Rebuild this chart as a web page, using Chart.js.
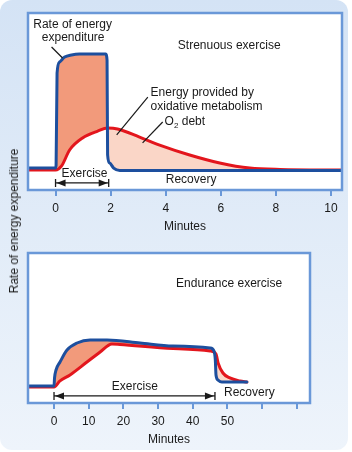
<!DOCTYPE html>
<html><head><meta charset="utf-8">
<script src="https://cdn.jsdelivr.net/npm/chart.js@4"></script>
<style>
html,body{margin:0;padding:0;background:#fff;}
#wrap{position:relative;width:352px;height:452px;overflow:hidden;}
#bg{position:absolute;left:0;top:0;width:348px;height:450px;border-radius:12px;background:linear-gradient(#d4e3f5,#eef4fb);}
canvas{position:absolute;left:0;}
#c1{top:0;} #c2{top:235px;}
#ylab{position:absolute;left:14px;top:221px;transform:translate(-50%,-50%) rotate(-90deg);white-space:nowrap;font:12px 'Liberation Sans',Arial,sans-serif;color:#1a1a1a;}
</style></head>
<body>
<div id="wrap">
<div id="bg"></div>
<canvas id="c1" width="352" height="235"></canvas>
<canvas id="c2" width="352" height="217"></canvas>
<div id="ylab">Rate of energy expenditure</div>
</div>
<script>
// ---- Data (minutes vs. relative rate of energy expenditure, 0-100) ----
// Strenuous exercise
const strenuousRateX = [-1, 0, 0.02, 0.055, 0.145, 0.33, 0.58, 0.87, 1.82, 1.87, 1.89, 1.96, 2.11, 2.33, 10.4];
const strenuousRateY = [12.4, 12.4, 14, 66, 72.3, 75.1, 76.3, 76.8, 76.8, 73.4, 19.8, 15.3, 12.4, 11.0, 11.0];
const strenuousOxX = [-1, 0, 0.22, 0.51, 0.98, 1.53, 1.89, 2.25, 3.05, 3.78, 4.87, 5.96, 7.05, 8.15, 10.4];
const strenuousOxY = [11.3, 11.3, 13.6, 22.6, 29.4, 33.3, 35.0, 34.5, 29.9, 25.4, 19.8, 15.3, 12.4, 11.6, 11.3];
const strenuousTicks = [0, 2, 4, 6, 8, 10];
const strenuousTickLabels = ['0', '2', '4', '6', '8', '10'];
// Endurance exercise
const enduranceRateX = [-7.5, 0, 0.15, 0.58, 1.73, 3.75, 6.63, 10.4, 15.3, 24.8, 34.3, 45, 46.1, 46.5, 46.7, 47.3, 48.4, 55.6];
const enduranceRateY = [11.3, 11.3, 16.7, 22, 27.3, 35.3, 40, 42, 42, 40, 38, 36.7, 34.7, 28.7, 18.7, 15.3, 14, 14];
const enduranceOxX = [-7.5, 0, 1.73, 4.6, 9.5, 13.3, 16.7, 19, 34.3, 45, 46.7, 47.3, 48.7, 50.7, 53.6, 55.6];
const enduranceOxY = [10.7, 10.7, 14.7, 18.7, 27.3, 34, 39.3, 39, 36.3, 34.7, 32.7, 26.7, 20, 16.7, 14.7, 14];
const enduranceTicks = [0, 10, 20, 30, 40, 50, 60, 70];
const enduranceTickLabels = ['0', '10', '20', '30', '40', '50', '', ''];

// ---- Styles ----
const FONT = "'Liberation Sans', Arial, sans-serif";
const TXT = '#1a1a1a';
const BLUE = '#1d4f9e';
const RED = '#e3161d';
const ORANGE = '#f29a7b';
const PINK = '#fad6c7';
const FRAME = '#6a98d8';

function pts(xs, ys) { return xs.map((x, i) => ({ x: x, y: ys[i] })); }

const framePlugin = {
  id: 'frame',
  beforeDraw(chart) {
    const { ctx, chartArea: a } = chart;
    ctx.save();
    ctx.fillStyle = '#fff';
    ctx.fillRect(a.left, a.top, a.right - a.left, a.bottom - a.top);
    ctx.restore();
  },
  afterDatasetsDraw(chart) {
    const { ctx, chartArea: a } = chart;
    ctx.save();
    ctx.strokeStyle = FRAME;
    ctx.lineWidth = 2.5;
    ctx.strokeRect(a.left, a.top, a.right - a.left, a.bottom - a.top);
    ctx.restore();
  }
};

function annotPlugin(items) {
  return {
    id: 'annot',
    afterDraw(chart) {
      const ctx = chart.ctx, xs = chart.scales.x, ys = chart.scales.y;
      const X = v => xs.getPixelForValue(v), Y = v => ys.getPixelForValue(v);
      ctx.save();
      ctx.fillStyle = TXT; ctx.strokeStyle = TXT;
      ctx.textBaseline = 'middle';
      items.forEach(it => {
        if (it.t === 'text') {
          ctx.font = '12px ' + FONT;
          ctx.textAlign = it.align || 'left';
          ctx.fillText(it.text, X(it.x), Y(it.y));
        } else if (it.t === 'line') {
          ctx.lineWidth = 1.2;
          ctx.beginPath(); ctx.moveTo(X(it.x1), Y(it.y1)); ctx.lineTo(X(it.x2), Y(it.y2)); ctx.stroke();
        } else if (it.t === 'sub') {
          let px = X(it.x); const py = Y(it.y);
          ctx.textAlign = 'left';
          ctx.font = '12px ' + FONT; ctx.fillText(it.main, px, py); px += ctx.measureText(it.main).width;
          ctx.font = '8px ' + FONT; ctx.fillText(it.sub, px, py + 4); px += ctx.measureText(it.sub).width;
          ctx.font = '12px ' + FONT; ctx.fillText(it.rest, px, py);
        } else if (it.t === 'arrow') {
          const x1 = X(it.x1), x2 = X(it.x2), y = Y(it.y);
          ctx.lineWidth = 1.3;
          ctx.beginPath(); ctx.moveTo(x1, y); ctx.lineTo(x2, y);
          ctx.moveTo(x1, y - 4); ctx.lineTo(x1, y + 4);
          ctx.moveTo(x2, y - 4); ctx.lineTo(x2, y + 4); ctx.stroke();
          ctx.beginPath(); ctx.moveTo(x1 + 1, y); ctx.lineTo(x1 + 10, y - 3.5); ctx.lineTo(x1 + 10, y + 3.5); ctx.closePath(); ctx.fill();
          ctx.beginPath(); ctx.moveTo(x2 - 1, y); ctx.lineTo(x2 - 10, y - 3.5); ctx.lineTo(x2 - 10, y + 3.5); ctx.closePath(); ctx.fill();
        }
      });
      ctx.restore();
    }
  };
}

function makeChart(canvas, cfg) {
  return new Chart(canvas, {
    type: 'line',
    data: {
      datasets: [
        { label: 'Rate of energy expenditure', data: pts(cfg.rateX, cfg.rateY), borderColor: BLUE, borderWidth: 3,
          pointRadius: 0, cubicInterpolationMode: 'monotone', borderJoinStyle: 'round', borderCapStyle: 'round',
          fill: { target: 1, above: ORANGE, below: PINK } },
        { label: 'Energy provided by oxidative metabolism', data: pts(cfg.oxX, cfg.oxY), borderColor: RED, borderWidth: 3,
          pointRadius: 0, cubicInterpolationMode: 'monotone', borderJoinStyle: 'round', borderCapStyle: 'round', fill: false }
      ]
    },
    options: {
      responsive: false, animation: false, events: [],
      layout: { padding: cfg.padding },
      plugins: { legend: { display: false }, tooltip: { enabled: false }, filler: { drawTime: 'beforeDatasetsDraw' } },
      scales: {
        x: {
          type: 'linear', min: cfg.xmin, max: cfg.xmax,
          afterBuildTicks: s => { s.ticks = cfg.ticks.map(v => ({ value: v })); },
          afterFit: s => { s.height = cfg.axisH; },
          grid: { drawOnChartArea: false, drawTicks: true, tickLength: 6, color: FRAME, lineWidth: 2 },
          border: { display: false },
          ticks: { padding: 5, color: TXT, font: { family: FONT, size: 12 }, maxRotation: 0, autoSkip: false,
                   callback: (v, i) => cfg.tickLabels[i] },
          title: { display: true, text: 'Minutes', color: TXT, font: { family: FONT, size: 12 }, padding: { top: 0, bottom: cfg.titlePad } }
        },
        y: { display: false, min: 0, max: 100 }
      }
    },
    plugins: [framePlugin, annotPlugin(cfg.annot)]
  });
}

makeChart(document.getElementById('c1'), {
  rateX: strenuousRateX, rateY: strenuousRateY, oxX: strenuousOxX, oxY: strenuousOxY,
  ticks: strenuousTicks, tickLabels: strenuousTickLabels,
  xmin: -1, xmax: 10.4, padding: { left: 28, right: 10, top: 13, bottom: 0 }, axisH: 45, titlePad: 1,
  annot: [
    { t: 'text', text: 'Rate of energy', x: 0.62, y: 93.2, align: 'center' },
    { t: 'text', text: 'expenditure', x: 0.64, y: 85.9, align: 'center' },
    { t: 'line', x1: -0.145, y1: 80.8, x2: 0.255, y2: 74.6 },
    { t: 'text', text: 'Strenuous exercise', x: 4.44, y: 81.4 },
    { t: 'text', text: 'Energy provided by', x: 3.45, y: 54.8 },
    { t: 'text', text: 'oxidative metabolism', x: 3.45, y: 46.9 },
    { t: 'line', x1: 3.35, y1: 52.5, x2: 2.22, y2: 31.1 },
    { t: 'sub', main: 'O', sub: '2', rest: ' debt', x: 3.96, y: 38.4 },
    { t: 'line', x1: 3.89, y1: 38.4, x2: 3.16, y2: 26.6 },
    { t: 'text', text: 'Exercise', x: 1.05, y: 9.0, align: 'center' },
    { t: 'arrow', x1: 0, x2: 1.93, y: 4.0 },
    { t: 'text', text: 'Recovery', x: 4.0, y: 5.6 }
  ]
});

makeChart(document.getElementById('c2'), {
  rateX: enduranceRateX, rateY: enduranceRateY, oxX: enduranceOxX, oxY: enduranceOxY,
  ticks: enduranceTicks, tickLabels: enduranceTickLabels,
  xmin: -7.5, xmax: 73.8, padding: { left: 28, right: 42, top: 18, bottom: 0 }, axisH: 49, titlePad: 5,
  annot: [
    { t: 'text', text: 'Endurance exercise', x: 35.2, y: 79.3 },
    { t: 'text', text: 'Exercise', x: 23.3, y: 10.7, align: 'center' },
    { t: 'arrow', x1: 0, x2: 46.4, y: 4.7 },
    { t: 'text', text: 'Recovery', x: 49.0, y: 6.7 }
  ]
});
</script>
</body></html>
